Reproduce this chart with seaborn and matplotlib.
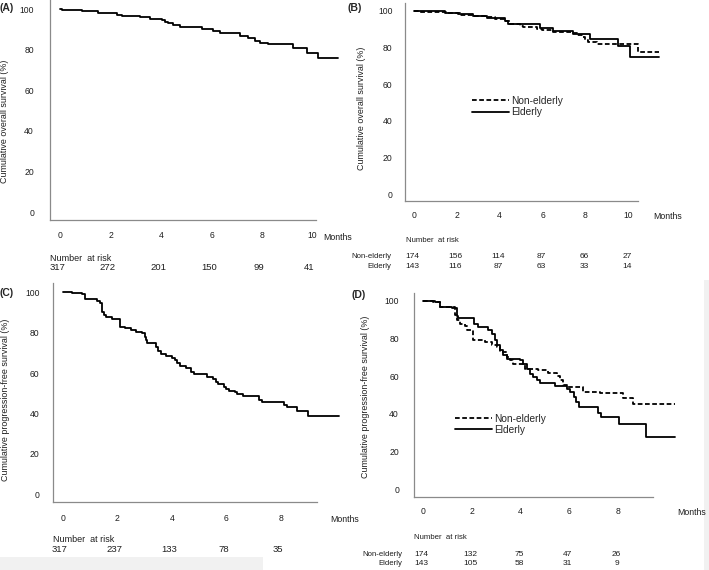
import matplotlib
matplotlib.use('Agg')
import matplotlib.pyplot as plt
import seaborn as sns
from matplotlib.patches import Rectangle

# ---- data (months, survival %) ----
a_time = [0, 0.05, 0.85, 1.51, 2.24, 2.44, 3.16, 3.56, 4.02, 4.15, 4.29, 4.48, 4.75, 5.61,
          6.07, 6.34, 7.13, 7.46, 7.73, 7.92, 8.25, 9.25, 9.78, 10.24, 11.03]
a_surv = [100, 99.7, 99.2, 98.0, 97.3, 96.8, 96.0, 95.2, 94.9, 93.9, 93.1, 92.3, 91.1, 90.4,
          89.4, 88.2, 86.8, 85.7, 84.5, 83.5, 82.7, 80.8, 78.6, 76.1, 76.1]

b_eld_time = [0, 0.3, 1.46, 2.08, 2.78, 3.4, 4.25, 4.41, 5.88, 6.5, 7.43, 8.21, 9.53, 10.07, 11.43]
b_eld_surv = [100, 99.6, 98.9, 98.0, 97.1, 95.8, 94.5, 92.7, 90.4, 89.1, 87.3, 84.4, 80.7, 74.6, 74.6]
b_non_time = [0, 0.2, 1.54, 2.16, 2.7, 3.32, 3.79, 4.25, 4.49, 4.95, 5.11, 5.73, 5.96, 6.5,
              7.36, 7.59, 7.82, 7.98, 8.13, 8.52, 10.46, 11.43]
b_non_surv = [100, 99.4, 98.6, 97.7, 97.1, 96.4, 95.5, 94.5, 92.7, 91.6, 90.9, 90.2, 89.5, 88.4,
              87.7, 86.7, 85.5, 84.0, 82.9, 81.7, 77.6, 77.6]

c_time = [0, 0.33, 0.7, 0.8, 1.25, 1.37, 1.43, 1.5, 1.6, 1.8, 2.1, 2.3, 2.5, 2.7, 2.9, 3.0,
          3.05, 3.1, 3.4, 3.5, 3.6, 3.8, 4.0, 4.1, 4.2, 4.3, 4.5, 4.7, 4.8, 5.3, 5.5, 5.6, 5.7,
          5.9, 6.0, 6.1, 6.3, 6.4, 6.6, 7.2, 7.3, 8.1, 8.2, 8.6, 9.0, 10.13]
c_surv = [100, 99.5, 99, 96.7, 95.7, 94.6, 90.4, 88.8, 88, 86.8, 83, 82.2, 81.4, 80.5, 79.7, 78,
          76.4, 75, 73, 71, 69.4, 68.5, 67.6, 66.5, 64.8, 63.5, 62.4, 60.7, 59.4, 58.3, 57, 55.8,
          54.6, 53.3, 52.1, 51.1, 50.5, 49.7, 48.7, 46.7, 45.5, 44.2, 43, 41.3, 38.9, 38.9]

d_eld_time = [0, 0.5, 0.71, 1.19, 1.39, 1.45, 2.1, 2.28, 2.69, 2.83, 2.97, 3.03, 3.17, 3.31,
              3.44, 3.99, 4.13, 4.26, 4.4, 4.54, 4.67, 4.81, 5.42, 5.9, 6.04, 6.2, 6.3, 6.4,
              7.2, 7.3, 8.06, 9.15, 10.34]
d_eld_surv = [100, 99.2, 96.8, 96.3, 92, 90.6, 87.6, 85.8, 84.4, 82.6, 79, 76.4, 73.7, 71,
              69.3, 68.4, 66.6, 64, 61.3, 59.6, 57.8, 56.4, 54.6, 53.4, 51.6, 49, 46.3, 43.5,
              40.5, 38.2, 34.5, 27.6, 27.6]
d_non_time = [0, 0.44, 0.71, 1.33, 1.39, 1.53, 1.73, 1.8, 2.08, 2.55, 2.83, 3.03, 3.17, 3.44,
              3.58, 3.72, 4.19, 4.74, 5.15, 5.49, 5.63, 5.77, 5.9, 6.58, 7.27, 8.22, 8.63, 10.34]
d_non_surv = [100, 99.5, 96.8, 92.4, 89.7, 87.9, 86.5, 84.4, 79.0, 78.2, 76.4, 75.5, 72.8, 70.2,
              68.4, 66.6, 64.0, 63.1, 61.6, 59.9, 57.7, 55.1, 54.2, 51.7, 50.9, 48.2, 45.2, 45.2]

# number at risk
a_risk = [317, 272, 201, 150, 99, 41]
b_risk_non = [174, 156, 114, 87, 66, 27]
b_risk_eld = [143, 116, 87, 63, 33, 14]
c_risk = [317, 237, 133, 78, 35]
d_risk_non = [174, 132, 75, 47, 26]
d_risk_eld = [143, 105, 58, 31, 9]

os_label = 'Cumulative overall survival (%)'
pfs_label = 'Cumulative progression-free survival (%)'
group_labels = ['Non-elderly', 'Elderly']

# ---- figure ----
sns.set_style('white')
plt.rcParams['font.family'] = ['Liberation Sans', 'DejaVu Sans']

W, H = 709, 570
fig = plt.figure(figsize=(W / 100, H / 100), dpi=100)
GRAY = '#8a8a8a'
TXT = '#1e1e1e'
DASH = (0, (2.6, 1.4))


def fx(x):
    return x / W


def fy(y):
    return 1 - y / H


def make_axes(x0, sx, y0, sy, left, top, right, bottom, xend, xmax):
    # x0/y0: pixel of month 0 / 0 %, sx/sy: pixels per unit
    ax = fig.add_axes([fx(left), fy(bottom), (right - left) / W, (bottom - top) / H])
    ax.patch.set_alpha(0)
    ax.set_xlim((left - x0) / sx, (right - x0) / sx)
    ax.set_ylim((y0 - bottom) / sy, (y0 - top) / sy)
    for s in ['top', 'right']:
        ax.spines[s].set_visible(False)
    for s in ['left', 'bottom']:
        ax.spines[s].set_color(GRAY)
        ax.spines[s].set_linewidth(0.9)
    ax.spines['bottom'].set_bounds((left - x0) / sx, xend)
    ax.set_xticks(range(0, xmax + 1, 2))
    ax.set_yticks(range(0, 101, 20))
    ax.tick_params(axis='both', direction='out', length=3.5, width=0.8, color=GRAY,
                   labelsize=6.2, labelcolor=TXT)
    ax.set_xlabel('')
    ax.set_ylabel('')
    return ax


def km(ax, t, s, dashed=False, label=None):
    sns.lineplot(x=t, y=s, ax=ax, drawstyle='steps-post', estimator=None, color='black',
                 linewidth=1.3, linestyle=DASH if dashed else '-', label=label, legend=False)


def risk_row(ax, values, y, size, dx=0):
    for i, v in enumerate(values):
        ax.annotate(str(v), xy=(2 * i, fy(y)), xycoords=('data', 'figure fraction'),
                    xytext=(dx, 0), textcoords='offset points',
                    ha='center', va='center', fontsize=size, color=TXT)


# (A)
axA = make_axes(60.3, 25.2, 212, 2.027, 50, 0, 345, 220, 10.15, 10)
km(axA, a_time, a_surv)
axA.tick_params(axis='x', pad=4.5)
axA.tick_params(axis='y', pad=8)
fig.text(fx(0), fy(8), '(A)', fontsize=7.5, fontweight='bold', va='center')
fig.text(fx(5), fy(121), os_label, rotation=90, fontsize=6.4, ha='center', va='center', color=TXT)
fig.text(fx(323), fy(237), 'Months', fontsize=6.3, va='center', color=TXT)
fig.text(fx(50), fy(258), 'Number  at risk', fontsize=6.5, va='center', color=TXT)
risk_row(axA, a_risk, 268, 6.8, dx=-2)

# (B)
axB = make_axes(413.7, 21.47, 194, 1.833, 405, 2.7, 670, 201, 10.46, 10)
km(axB, b_non_time, b_non_surv, dashed=True, label=group_labels[0])
km(axB, b_eld_time, b_eld_surv, label=group_labels[1])
axB.tick_params(axis='x', pad=3.5)
axB.tick_params(axis='y', pad=5.5)
axB.legend(loc='upper left', bbox_to_anchor=(fx(472), fy(96)), bbox_transform=fig.transFigure,
           frameon=False, fontsize=7.3, handlelength=3.6, handletextpad=0.3, labelspacing=0.12,
           borderpad=0, borderaxespad=0)
fig.text(fx(348), fy(8), '(B)', fontsize=7.5, fontweight='bold', va='center')
fig.text(fx(361.7), fy(108), os_label, rotation=90, fontsize=6.4, ha='center', va='center', color=TXT)
fig.text(fx(653), fy(216), 'Months', fontsize=6.3, va='center', color=TXT)
fig.text(fx(405.7), fy(240), 'Number  at risk', fontsize=5.6, va='center', color=TXT)
fig.text(fx(391.7), fy(256.7), group_labels[0], fontsize=5.6, ha='right', va='center', color=TXT)
fig.text(fx(391.7), fy(266.7), group_labels[1], fontsize=5.6, ha='right', va='center', color=TXT)
risk_row(axB, b_risk_non, 256.7, 6, dx=-1)
risk_row(axB, b_risk_eld, 266.7, 6, dx=-1)

# (C)
axC = make_axes(62.7, 27.3, 494.3, 2.02, 53.3, 283.3, 345, 501.7, 9.31, 8)
km(axC, c_time, c_surv)
axC.tick_params(axis='x', pad=5)
axC.tick_params(axis='y', pad=6.5)
fig.text(fx(0), fy(293), '(C)', fontsize=7.5, fontweight='bold', va='center')
fig.text(fx(6), fy(400), pfs_label, rotation=90, fontsize=6.4, ha='center', va='center', color=TXT)
fig.text(fx(330), fy(519), 'Months', fontsize=6.3, va='center', color=TXT)
fig.text(fx(53.3), fy(540), 'Number  at risk', fontsize=6.5, va='center', color=TXT)
risk_row(axC, c_risk, 550, 6.8, dx=-2)

# (D)
axD = make_axes(422.7, 24.4, 489.3, 1.886, 414.3, 293.3, 690, 497.3, 9.43, 8)
km(axD, d_non_time, d_non_surv, dashed=True, label=group_labels[0])
km(axD, d_eld_time, d_eld_surv, label=group_labels[1])
axD.tick_params(axis='x', pad=3.5)
axD.tick_params(axis='y', pad=7.5)
axD.legend(loc='upper left', bbox_to_anchor=(fx(455), fy(413.5)), bbox_transform=fig.transFigure,
           frameon=False, fontsize=7.3, handlelength=3.6, handletextpad=0.3, labelspacing=0.12,
           borderpad=0, borderaxespad=0)
fig.text(fx(352), fy(295), '(D)', fontsize=7.5, fontweight='bold', va='center')
fig.text(fx(365), fy(397), pfs_label, rotation=90, fontsize=6.4, ha='center', va='center', color=TXT)
fig.text(fx(677.7), fy(512.3), 'Months', fontsize=6.3, va='center', color=TXT)
fig.text(fx(414), fy(537.3), 'Number  at risk', fontsize=5.6, va='center', color=TXT)
fig.text(fx(402.7), fy(554), group_labels[0], fontsize=5.6, ha='right', va='center', color=TXT)
fig.text(fx(402.7), fy(563.3), group_labels[1], fontsize=5.6, ha='right', va='center', color=TXT)
risk_row(axD, d_risk_non, 554, 6, dx=-1)
risk_row(axD, d_risk_eld, 563.3, 6, dx=-1)

# light grey scan margins of the original figure
fig.patches.append(Rectangle((0, 0), fx(263), fy(556.5), transform=fig.transFigure,
                             facecolor='#f1f1f1', edgecolor='none', zorder=-1))
fig.patches.append(Rectangle((fx(704), 0), 1 - fx(704), fy(280), transform=fig.transFigure,
                             facecolor='#f1f1f1', edgecolor='none', zorder=-1))

fig.savefig('out.png', dpi=100)
